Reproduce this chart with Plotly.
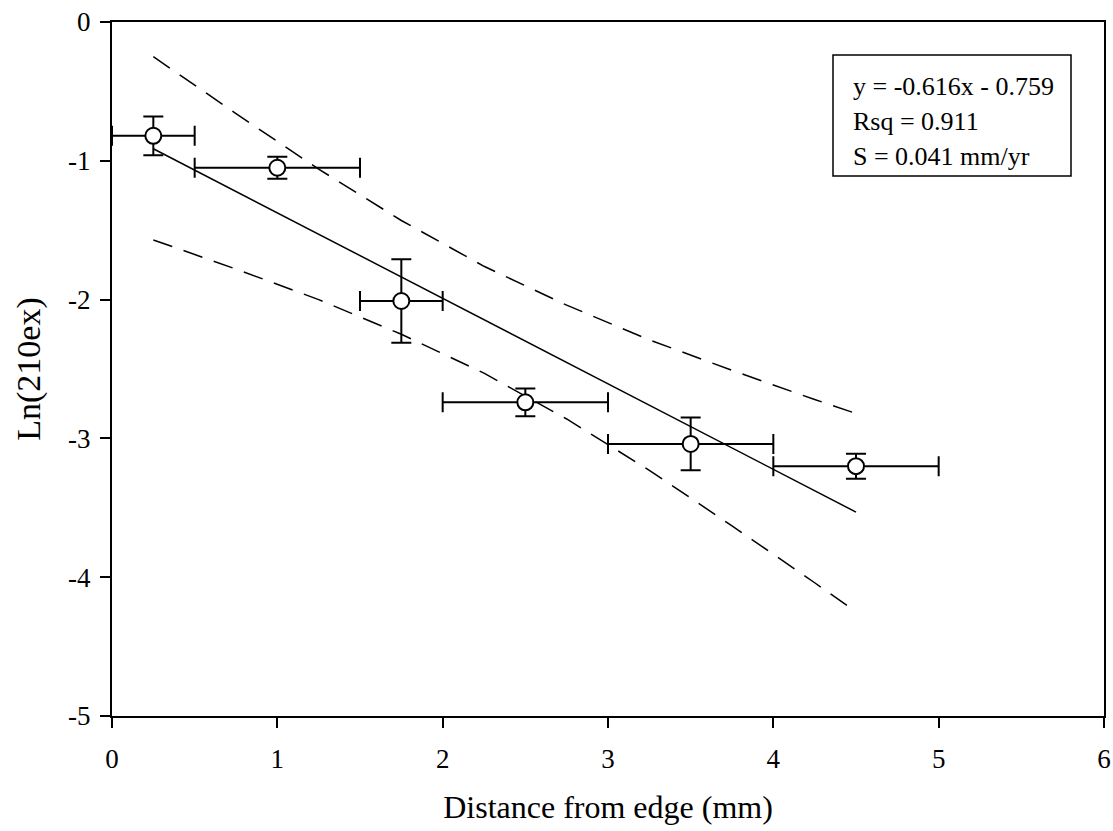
import plotly.graph_objects as go

# Data
dist = [0.25, 1.0, 1.75, 2.5, 3.5, 4.5]
ln210 = [-0.82, -1.05, -2.01, -2.74, -3.04, -3.20]
yerr = [0.14, 0.08, 0.30, 0.10, 0.19, 0.09]
xerr = [0.25, 0.5, 0.25, 0.5, 0.5, 0.5]

fit_x = [0.25, 4.5]
fit_y = [-0.913, -3.531]

band_x = [0.25, 0.75, 1.25, 1.75, 2.25, 2.75, 3.25, 3.75, 4.25, 4.5]
band_upper = [-0.25, -0.66, -1.06, -1.43, -1.76, -2.04, -2.29, -2.51, -2.72, -2.82]
band_lower = [-1.57, -1.78, -2.00, -2.25, -2.53, -2.86, -3.23, -3.63, -4.04, -4.25]

x_ticks = [0, 1, 2, 3, 4, 5, 6]
y_ticks = [0, -1, -2, -3, -4, -5]

stats_lines = ["y = -0.616x - 0.759", "Rsq = 0.911", "S = 0.041 mm/yr"]

FONT = "Liberation Serif"
TICKFONT = dict(family=FONT, size=27, color="black")

fig = go.Figure()

fig.add_trace(go.Scatter(x=band_x, y=band_upper, mode="lines",
                         line=dict(color="black", width=1.5, dash="20px,12px"),
                         showlegend=False, hoverinfo="skip"))
fig.add_trace(go.Scatter(x=band_x, y=band_lower, mode="lines",
                         line=dict(color="black", width=1.5, dash="20px,12px"),
                         showlegend=False, hoverinfo="skip"))
fig.add_trace(go.Scatter(x=fit_x, y=fit_y, mode="lines",
                         line=dict(color="black", width=1.5),
                         showlegend=False, hoverinfo="skip"))
fig.add_trace(go.Scatter(
    x=dist, y=ln210, mode="markers",
    marker=dict(symbol="circle", size=16, color="white",
                line=dict(color="black", width=2)),
    error_y=dict(type="data", array=yerr, visible=True, color="black",
                 thickness=2, width=10),
    error_x=dict(type="data", array=xerr, visible=True, color="black",
                 thickness=2, width=10),
    showlegend=False))

# stats box
fig.add_shape(type="rect", xref="paper", yref="paper",
              x0=(833 - 112) / 992, x1=(1071 - 112) / 992,
              y0=1 - (176 - 22) / 694, y1=1 - (55 - 22) / 694,
              line=dict(color="black", width=1.5), fillcolor="white", layer="above")
for i, txt in enumerate(stats_lines):
    fig.add_annotation(xref="paper", yref="paper",
                       x=(851 - 112) / 992, y=1 - (87 + 35 * i - 22) / 694,
                       xanchor="left", yanchor="middle", showarrow=False,
                       text=txt, font=dict(family=FONT, size=26, color="black"))

axis_common = dict(showgrid=False, zeroline=False, showline=True, linecolor="black",
                   linewidth=2, mirror=True, ticks="outside", ticklen=10,
                   tickwidth=2, tickcolor="black", automargin=False)

fig.update_xaxes(range=[0, 6], tickvals=x_ticks, ticktext=[str(v) for v in x_ticks],
                 tickfont=TICKFONT, ticklabelstandoff=8,
                 title=dict(text="Distance from edge (mm)",
                            font=dict(family=FONT, size=32, color="black"),
                            standoff=22),
                 **axis_common)
fig.update_yaxes(range=[-5, 0], tickvals=y_ticks, ticktext=[str(v) for v in y_ticks],
                 tickfont=TICKFONT, ticklabelstandoff=4,
                 title=dict(text="Ln(210ex)",
                            font=dict(family=FONT, size=34, color="black"),
                            standoff=17),
                 **axis_common)

fig.update_layout(width=1113, height=831,
                  font=dict(family=FONT, size=24, color="black"),
                  margin=dict(l=112, r=9, t=22, b=115),
                  plot_bgcolor="white", paper_bgcolor="white",
                  showlegend=False)

fig.write_html("out.html")
